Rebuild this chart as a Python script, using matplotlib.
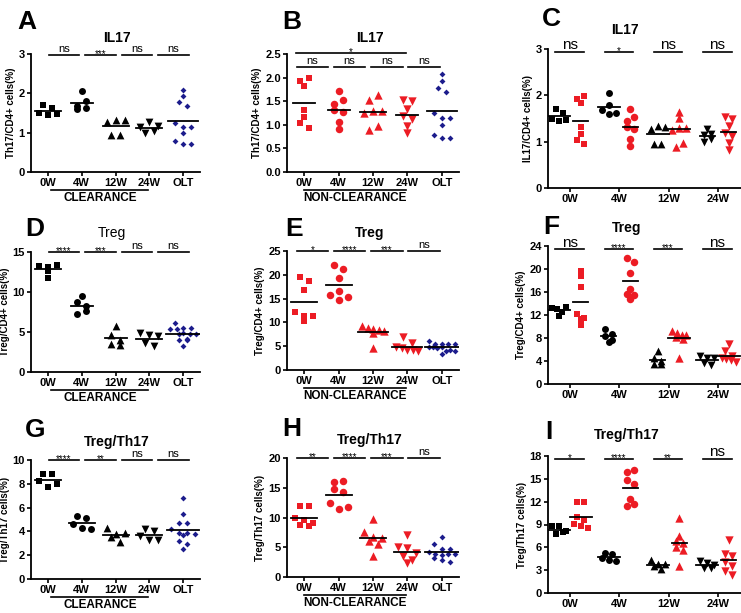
import numpy as np
import matplotlib
matplotlib.use('Agg')
import matplotlib.pyplot as plt
from matplotlib.transforms import blended_transform_factory, offset_copy

plt.rcParams['font.family'] = ['Liberation Sans', 'DejaVu Sans']
plt.rcParams['font.weight'] = 'bold'

# categories
weeks = ['0W', '4W', '12W', '24W']
cats = weeks + ['OLT']

# IL17 (Th17/CD4+ %)
il17_clear = [[1.50, 1.70, 1.44, 1.62, 1.47],
              [2.06, 1.68, 1.80, 1.60, 1.62],
              [1.27, 1.33, 1.31, 0.95, 0.95],
              [1.15, 1.28, 1.16, 1.00, 1.05]]
il17_nonclear = [[1.92, 1.99, 1.83, 1.31, 1.16, 1.03, 0.94],
                 [1.71, 1.45, 1.53, 1.32, 1.28, 1.05, 0.91],
                 [1.52, 1.63, 1.25, 1.30, 1.30, 0.88, 0.97],
                 [1.53, 1.50, 1.34, 1.18, 1.13, 0.98, 0.82]]
il17_olt = [1.93, 2.08, 1.78, 1.69, 1.25, 1.15, 1.15, 1.00, 0.78, 0.71, 0.71]

# Treg/CD4+ %
treg_clear = [[13.3, 13.1, 12.6, 13.4, 11.8],
              [9.5, 8.7, 8.3, 7.3, 7.6],
              [5.7, 4.6, 4.0, 3.5, 3.4],
              [4.9, 4.6, 4.5, 3.6, 3.3]]
treg_nonclear = [[19.6, 18.7, 16.9, 12.2, 11.4, 11.3, 10.3],
                 [22.0, 21.3, 19.3, 15.7, 16.6, 15.4, 14.7],
                 [9.3, 8.8, 8.6, 8.5, 8.2, 7.8, 4.6],
                 [6.9, 5.7, 4.9, 4.6, 4.3, 4.1, 3.9]]
treg_olt = [6.1, 5.5, 5.4, 5.5, 5.4, 4.9, 4.8, 4.7, 4.8, 4.0, 4.1, 3.3, 4.0]

# Treg/Th17
ratio_clear = [[8.85, 8.85, 8.2, 7.7, 8.0],
               [5.3, 5.1, 4.6, 4.3, 4.2],
               [4.3, 3.8, 3.85, 3.5, 3.15],
               [4.2, 4.0, 3.65, 3.3, 3.25]]
ratio_nonclear = [[12.0, 11.9, 10.0, 9.6, 9.1, 8.8, 8.6],
                  [15.9, 16.2, 14.8, 14.3, 12.4, 11.4, 11.7],
                  [9.8, 7.5, 6.8, 6.6, 6.0, 5.6, 3.6],
                  [7.0, 5.1, 4.9, 4.1, 3.5, 2.9, 2.4]]
ratio_olt = [6.8, 5.5, 4.7, 4.7, 4.2, 3.9, 3.7, 3.9, 3.8, 3.2, 2.9, 2.5]

# significance marks
sig_A = ['ns', '***', 'ns', 'ns']
sig_B = ['ns', 'ns', 'ns', 'ns']
sig_B_all = '*'
sig_C = ['ns', '*', 'ns', 'ns']
sig_D = ['****', '***', 'ns', 'ns']
sig_E = ['*', '****', '***', 'ns']
sig_F = ['ns', '****', '***', 'ns']
sig_G = ['****', '**', 'ns', 'ns']
sig_H = ['**', '****', '***', 'ns']
sig_I = ['*', '****', '**', 'ns']

RED = '#ec1c24'
NAVY = '#1c1c8c'
markers = ['s', 'o', '^', 'v']
msizes = [4.6, 5.0, 5.6, 5.6]

W, H = 741, 613
fig = plt.figure(figsize=(W / 100, H / 100), dpi=100)


def make_ax(l, r, t, b):
    ax = fig.add_axes([l / W, 1 - b / H, (r - l) / W, (b - t) / H])
    for s in ['top', 'right']:
        ax.spines[s].set_visible(False)
    for s in ['left', 'bottom']:
        ax.spines[s].set_linewidth(1.3)
    ax.tick_params(direction='out', length=3, width=1.2, labelsize=8, pad=1.5)
    return ax


def spread(ax, vals, row_h, step, max_w):
    # prism-like scatter: points close in y share a row and are spread sideways
    vals = np.asarray(vals, dtype=float)
    ys = ax.transData.transform(np.column_stack([np.zeros(len(vals)), vals]))[:, 1]
    ux = ax.transData.transform((1, 0))[0] - ax.transData.transform((0, 0))[0]
    order = np.argsort(-vals, kind='stable')
    rows, cur = [], [order[0]]
    for k in order[1:]:
        if ys[cur[0]] - ys[k] < row_h:
            cur.append(k)
        else:
            rows.append(cur)
            cur = [k]
    rows.append(cur)
    off = np.zeros(len(vals))
    for r in rows:
        r = sorted(r)
        n = len(r)
        st = step if n == 1 else min(step, max_w / (n - 1))
        for j, k in enumerate(r):
            off[k] = (j - (n - 1) / 2) * st
    return off / ux, ux


def group(ax, x0, vals, marker, ms, color, hw_px, row_h, step, max_w):
    off, ux = spread(ax, vals, row_h, step, max_w)
    ax.scatter(x0 + off, vals, marker=marker, s=ms ** 2, c=color,
               linewidths=0, zorder=3, clip_on=False)
    hw = max(hw_px / ux, np.abs(off).max() + 4 / ux)
    m = np.mean(vals)
    ax.plot([x0 - hw, x0 + hw], [m, m], color='black', lw=1.3, zorder=4)


def sig(ax, a, b, y, lab, fs_ns=8, fs_star=7):
    ax.plot([a, b], [y, y], color='black', lw=1.2, clip_on=False)
    if lab == 'ns':
        ax.annotate(lab, xy=((a + b) / 2, y), xytext=(0, 2), textcoords='offset points',
                    ha='center', va='baseline', fontsize=fs_ns, fontweight='normal',
                    annotation_clip=False)
    else:
        ax.annotate(lab, xy=((a + b) / 2, y), xytext=(0, -1.5), textcoords='offset points',
                    ha='center', va='baseline', fontsize=fs_star, fontweight='normal',
                    annotation_clip=False)


def group_label(ax, a, b, text):
    tr = blended_transform_factory(ax.transData, ax.transAxes)
    ax.plot([a, b], [0, 0], color='black', lw=1.2, clip_on=False,
            transform=offset_copy(tr, fig=fig, x=0, y=-13, units='points'))
    ax.text((a + b) / 2, 0, text, transform=offset_copy(tr, fig=fig, x=0, y=-14.5, units='points'),
            ha='center', va='top', fontsize=8.5, fontweight='bold')


def left_panel(box, groups, olt, ymax, yticks, ylabel, fmt, color):
    ax = make_ax(*box)
    ax.set_xlim(-0.5, 4.5)
    ax.set_ylim(0, ymax)
    ax.set_yticks(yticks)
    ax.set_yticklabels([fmt.format(v) for v in yticks])
    ax.set_xticks(range(5))
    ax.set_xticklabels(cats)
    ax.set_ylabel(ylabel, fontsize=7, fontweight='bold', labelpad=2)
    for i in range(4):
        group(ax, i, groups[i], markers[i], msizes[i] + (0.4 if color == RED else 0),
              color, 11, row_h=6, step=9, max_w=22)
    group(ax, 4, olt, 'D', 3.0, NAVY, 15, row_h=5, step=8, max_w=26)
    return ax


def right_panel(box, blk, red, ymax, yticks, ylabel, sigs, yline):
    ax = make_ax(*box)
    ax.set_xlim(-0.45, 3.47)
    ax.set_ylim(0, ymax)
    ax.set_yticks(yticks)
    ax.set_xticks(range(4))
    ax.set_xticklabels(weeks)
    ax.set_ylabel(ylabel, fontsize=7, fontweight='bold', labelpad=2)
    for i in range(4):
        group(ax, i - 0.22, blk[i], markers[i], msizes[i], 'black', 6,
              row_h=5, step=7, max_w=14)
        group(ax, i + 0.22, red[i], markers[i], msizes[i] + 0.4, RED, 6,
              row_h=5, step=7, max_w=14)
    for i, lab in enumerate(sigs):
        sig(ax, i - 0.3, i + 0.28, yline, lab, fs_ns=11, fs_star=7)
    return ax


# ---- column 1 (clearance) ----
axA = left_panel((31, 200, 54, 172), il17_clear, il17_olt, 3, [0, 1, 2, 3],
                 'Th17/CD4+ cells(%)', '{:g}', 'black')
axD = left_panel((31, 200, 252, 372), treg_clear, treg_olt, 15, [0, 5, 10, 15],
                 'Treg/CD4+ cells(%)', '{:g}', 'black')
axG = left_panel((31, 200, 460, 579), ratio_clear, ratio_olt, 10, [0, 2, 4, 6, 8, 10],
                 'Treg/Th17 cells(%)', '{:g}', 'black')
for ax, sg, y in [(axA, sig_A, 2.97), (axD, sig_D, 15), (axG, sig_G, 10)]:
    for i, lab in enumerate(sg):
        s = 0.02 + 1.08 * i
        sig(ax, s, s + 0.9, y, lab)
    group_label(ax, 0.1, 2.97, 'CLEARANCE')

# ---- column 2 (non-clearance) ----
axB = left_panel((287, 459, 54, 172), il17_nonclear, il17_olt, 2.5, [0, 0.5, 1.0, 1.5, 2.0, 2.5],
                 'Th17/CD4+ cells(%)', '{:.1f}', RED)
axE = left_panel((287, 459, 251, 370), treg_nonclear, treg_olt, 25, [0, 5, 10, 15, 20, 25],
                 'Treg/CD4+ cells(%)', '{:g}', RED)
axH = left_panel((287, 459, 458, 577), ratio_nonclear, ratio_olt, 20, [0, 5, 10, 15, 20],
                 'Treg/Th17 cells(%)', '{:g}', RED)
for ax, sg, y in [(axB, sig_B, 2.22), (axE, sig_E, 25), (axH, sig_H, 20)]:
    for i, lab in enumerate(sg):
        s = -0.22 + 1.08 * i
        sig(ax, s, s + 0.92, y, lab)
    group_label(ax, 0.0, 2.95, 'NON-CLEARANCE')
sig(axB, -0.24, 2.96, 2.52, sig_B_all)

# ---- column 3 (clearance vs non-clearance) ----
axC = right_panel((548, 741, 49, 188), il17_clear, il17_nonclear, 3, [0, 1, 2, 3],
                  'IL17/CD4+ cells(%)', sig_C, 2.94)
axF = right_panel((548, 741, 246, 384), treg_clear, treg_nonclear, 24, [0, 4, 8, 12, 16, 20, 24],
                  'Treg/CD4+ cells(%)', sig_F, 23.4)
axI = right_panel((548, 741, 456, 593), ratio_clear, ratio_nonclear, 18, [0, 3, 6, 9, 12, 15, 18],
                  'Treg/Th17 cells(%)', sig_I, 17.6)

# titles
for x, y, t, w in [(117, 38, 'IL17', 'bold'), (370, 38, 'IL17', 'bold'), (625, 30, 'IL17', 'bold'),
                   (112, 233, 'Treg', 'normal'), (370, 233, 'Treg', 'bold'), (627, 228, 'Treg', 'bold'),
                   (117, 442, 'Treg/Th17', 'bold'), (370, 440, 'Treg/Th17', 'bold'),
                   (627, 435, 'Treg/Th17', 'bold')]:
    fig.text(x / W, 1 - y / H, t, ha='center', va='center', fontsize=10, fontweight=w)

# panel letters
for x, y, t in [(17, 10, 'A'), (282, 10, 'B'), (542, 7, 'C'),
                (25, 217, 'D'), (285, 217, 'E'), (543, 215, 'F'),
                (25, 418, 'G'), (282, 417, 'H'), (545, 420, 'I')]:
    fig.text(x / W, 1 - y / H, t, ha='left', va='top', fontsize=19, fontweight='bold')

fig.savefig('out.png', dpi=100)
